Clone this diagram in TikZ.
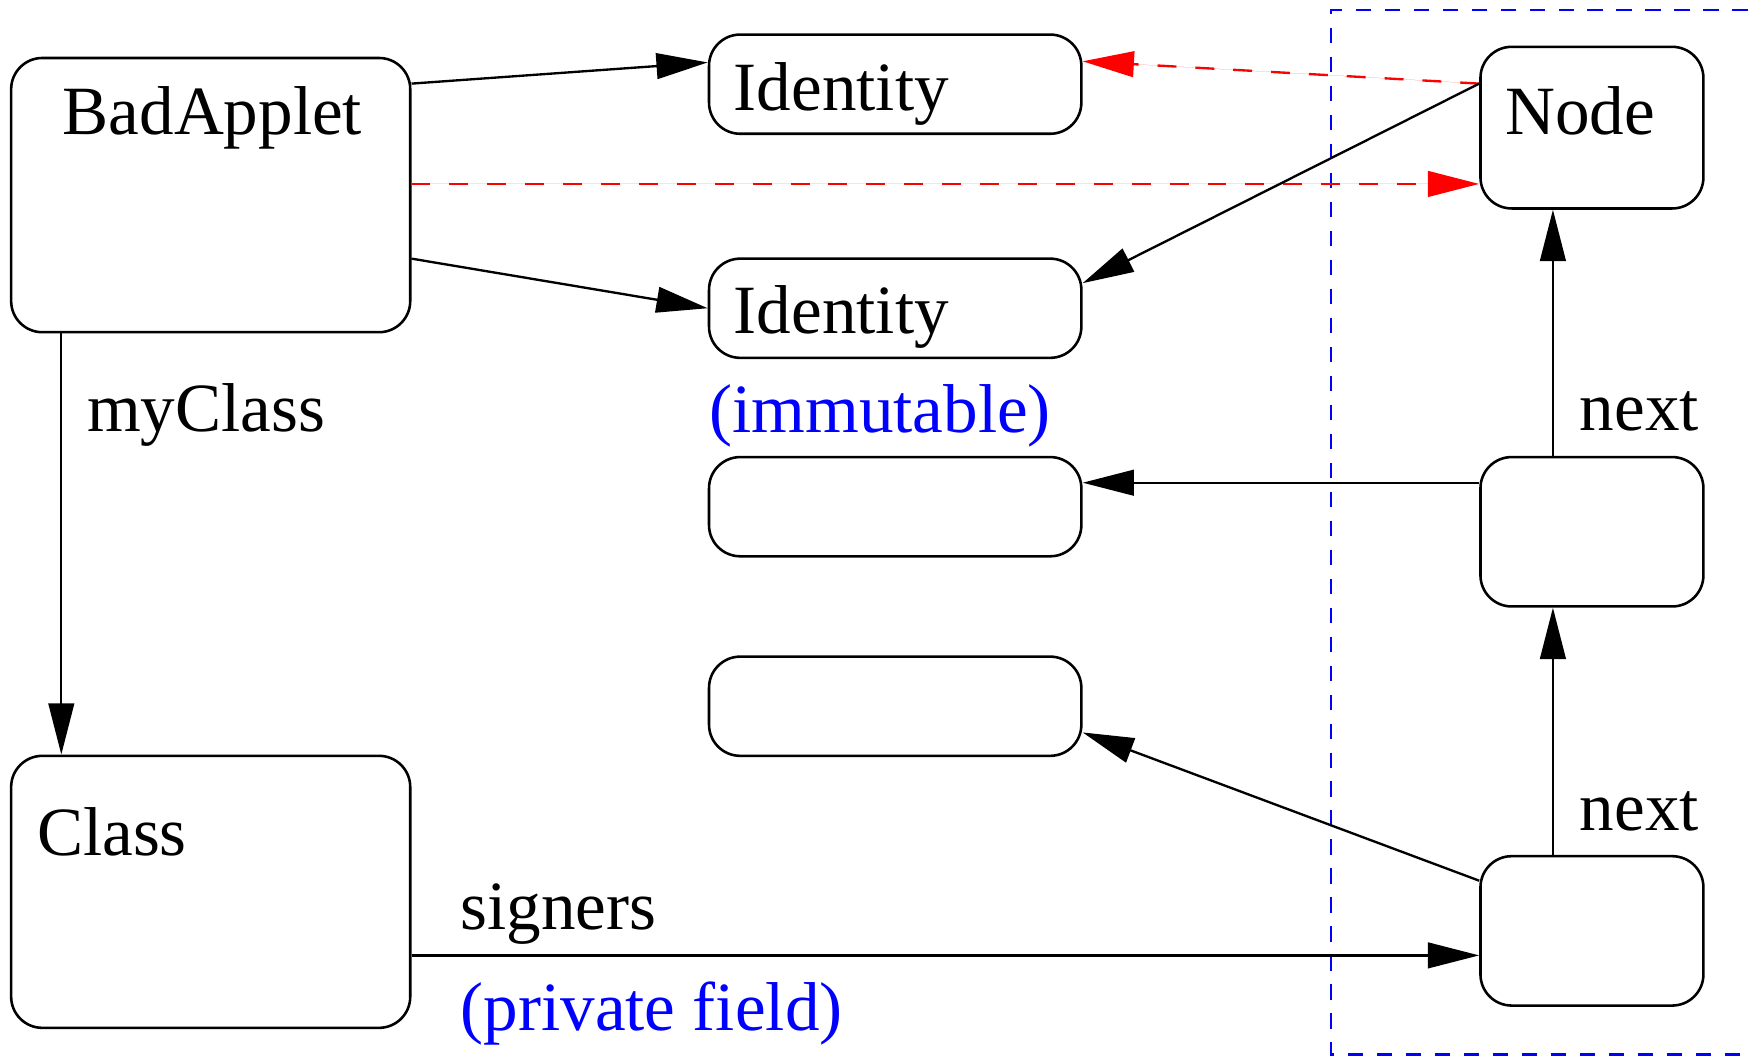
\documentclass[tikz,border=0pt]{standalone}
\usepackage{fontspec}
\setmainfont{Liberation Serif}
\usetikzlibrary{arrows.meta}
\definecolor{pureblue}{RGB}{0,0,255}
\definecolor{purered}{RGB}{255,0,0}
\tikzset{
  box/.style={draw, line width=2.3pt, rounded corners=28pt, inner sep=0pt},
  lbl/.style={anchor=base west, inner sep=0pt, font=\fontsize{62}{70}\selectfont},
  bluelbl/.style={lbl, text=pureblue},
  arr/.style={line width=2.1pt, -{Triangle[length=46pt,width=23pt]}},
  redarr/.style={arr, draw=purered, fill=purered, dash pattern=on 17pt off 17pt},
  frame/.style={draw=pureblue, line width=2pt, dash pattern=on 14pt off 12pt}
}
\begin{document}
\begin{tikzpicture}[x=1pt,y=-1pt]
\useasboundingbox (0,0) rectangle (1568,948);

% boxes
\node[box, minimum width=358pt, minimum height=246pt] (bad) at (189,175) {};
\node[box, minimum width=334pt, minimum height=89pt] (id1) at (803,75.5) {};
\node[box, minimum width=334pt, minimum height=89pt] (id2) at (803,276.5) {};
\node[box, minimum width=334pt, minimum height=89pt] (e3) at (803,454.5) {};
\node[box, minimum width=334pt, minimum height=89pt] (e4) at (803,633.5) {};
\node[box, minimum width=200pt, minimum height=145pt] (nd) at (1428,114.5) {};
\node[box, minimum width=200pt, minimum height=134pt] (mid) at (1428,477) {};
\node[box, minimum width=200pt, minimum height=134pt] (bot) at (1428,835) {};
\node[box, minimum width=358pt, minimum height=244pt] (cls) at (189,800) {};

% labels
\node[lbl] (tbad) at (56,121) {BadApplet};
\node[lbl] (tid1) at (658,99) {Identity};
\node[lbl] (tid2) at (658,299) {Identity};
\node[bluelbl] (timm) at (636,388) {(immutable)};
\node[lbl] (tnode) at (1350,121) {Node};
\node[lbl] (tcls) at (33,767) {Class};
\node[lbl] (tmy) at (78,387) {myClass};
\node[lbl] (tnext1) at (1417,386) {next};
\node[lbl] (tnext2) at (1417,745) {next};
\node[lbl] (tsig) at (413,834) {signers};
\node[bluelbl] (tpriv) at (413,924) {(private field)};

% frame
\draw[frame] (1568,9) -- (1194,9) -- (1194,946) -- (1568,946);

% connectors
\draw[arr] ([yshift=100pt]bad.east) -- ([yshift=19.5pt]id1.west);
\draw[redarr] ([yshift=10pt]bad.east) -- ([yshift=-50.5pt]nd.west);
\draw[arr] ([yshift=-57pt]bad.east) -- (id2.west);
\draw[redarr] ([yshift=39.5pt]nd.west) -- ([yshift=20.5pt]id1.east);
\draw[arr] ([yshift=39.5pt]nd.west) -- ([yshift=22.5pt]id2.east);
\draw[arr] ([xshift=-35pt]mid.north) -- ([xshift=-35pt]nd.south);
\draw[arr] ([yshift=44pt]mid.west) -- ([yshift=21.5pt]e3.east);
\draw[arr] ([xshift=-35pt]bot.north) -- ([xshift=-35pt]mid.south);
\draw[arr] ([yshift=45pt]bot.west) -- ([yshift=-23.5pt]e4.east);
\draw[arr] ([yshift=-57pt]cls.east) -- ([yshift=-22pt]bot.west);
\draw[arr] ([xshift=-134pt]bad.south) -- ([xshift=-134pt]cls.north);
\end{tikzpicture}
\end{document}
